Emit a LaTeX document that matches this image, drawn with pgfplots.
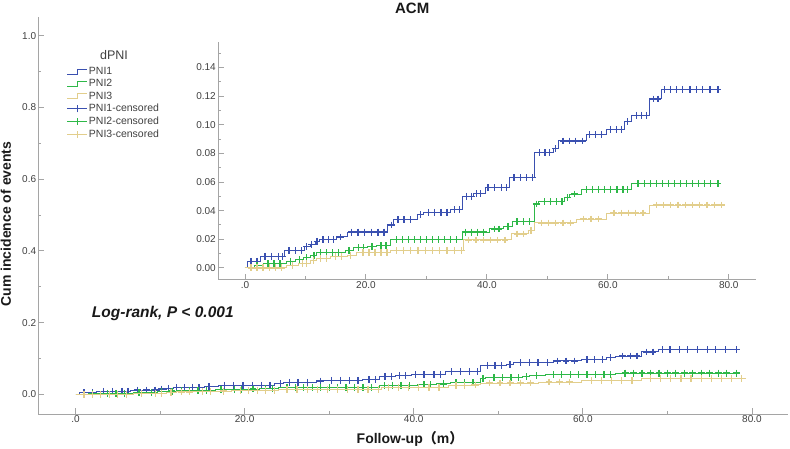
\documentclass[border=0pt]{standalone}
\usepackage{pgfplots}
\pgfplotsset{compat=1.18}
\usepackage{pgfplotstable}
\usepackage{fontspec}
\setmainfont{Liberation Sans}
\newfontfamily\cjk{Noto Sans CJK SC}

\definecolor{pblue}{RGB}{58,80,176}
\definecolor{pgreen}{RGB}{46,184,72}
\definecolor{pbeige}{RGB}{226,206,140}
\definecolor{axgray}{RGB}{165,165,165}
\definecolor{txtgray}{RGB}{64,64,64}

% ---------------- data ----------------
\pgfplotstableread{
x y
0 0
0.5 0.0047
2.5 0.0081
6.5 0.0119
9.9 0.0147
10.8 0.0165
11.6 0.0186
12.4 0.0198
15.2 0.0216
16.9 0.0250
23.5 0.0300
24.6 0.0337
28.5 0.0372
29.6 0.0388
34.0 0.0407
36.0 0.0500
37.8 0.0520
39.7 0.0560
43.8 0.0632
47.9 0.0806
51.0 0.0834
51.8 0.0887
56.5 0.0930
59.8 0.0969
62.8 0.1020
63.9 0.1066
66.9 0.1180
68.9 0.1247
78.2 0.1247
}\bsteps

\pgfplotstableread{
x y
1.0 0.0047
2.0 0.0047
3.3 0.0081
4.4 0.0081
5.5 0.0081
6.2 0.0081
7.3 0.0119
8.4 0.0119
9.4 0.0119
10.2 0.0147
11.0 0.0165
11.9 0.0186
12.9 0.0198
13.8 0.0198
14.6 0.0198
15.8 0.0216
17.6 0.0250
18.7 0.0250
19.8 0.0250
20.9 0.0250
22.0 0.0250
23.0 0.0250
24.2 0.0300
25.3 0.0337
26.3 0.0337
27.4 0.0337
29.0 0.0372
30.3 0.0388
31.3 0.0388
32.4 0.0388
33.4 0.0388
34.7 0.0407
35.5 0.0407
36.6 0.0500
37.4 0.0500
38.3 0.0520
39.0 0.0520
40.2 0.0560
41.2 0.0560
42.4 0.0560
43.2 0.0560
44.5 0.0632
45.5 0.0632
46.6 0.0632
47.5 0.0632
48.7 0.0806
49.6 0.0806
50.4 0.0806
51.4 0.0834
52.6 0.0887
53.7 0.0887
54.7 0.0887
55.8 0.0887
57.0 0.0930
58.0 0.0930
59.0 0.0930
60.5 0.0969
61.4 0.0969
62.3 0.0969
63.3 0.1020
64.7 0.1066
65.6 0.1066
66.4 0.1066
67.5 0.1180
68.3 0.1180
69.4 0.1247
70.3 0.1247
71.4 0.1247
72.4 0.1247
73.6 0.1247
74.7 0.1247
75.7 0.1247
76.9 0.1247
78.2 0.1247
}\bmarks

\pgfplotstableread{
x y
0 0
1.5 0.0019
3.0 0.0030
6.9 0.0047
8.3 0.0058
9.7 0.0072
10.8 0.0088
11.9 0.0105
16.6 0.0123
18.0 0.0140
20.2 0.0147
21.8 0.0156
24.0 0.0198
35.9 0.0250
40.5 0.0272
42.7 0.0290
44.3 0.0323
47.9 0.0446
48.5 0.0462
52.9 0.0490
53.7 0.0516
55.6 0.0550
63.9 0.0590
78.2 0.0590
}\gsteps

\pgfplotstableread{
x y
2.0 0.0019
3.8 0.0030
4.8 0.0030
5.8 0.0030
7.5 0.0047
9.0 0.0058
10.2 0.0072
11.4 0.0088
12.5 0.0105
13.5 0.0105
14.5 0.0105
15.5 0.0105
17.2 0.0123
18.8 0.0140
19.6 0.0140
21.0 0.0147
22.5 0.0156
23.3 0.0156
25.0 0.0198
26.0 0.0198
27.0 0.0198
28.0 0.0198
29.0 0.0198
30.0 0.0198
31.0 0.0198
32.0 0.0198
33.0 0.0198
34.0 0.0198
35.0 0.0198
36.5 0.0250
37.5 0.0250
38.5 0.0250
39.5 0.0250
41.2 0.0272
42.0 0.0272
43.5 0.0290
45.0 0.0323
46.0 0.0323
47.0 0.0323
48.2 0.0446
49.5 0.0462
50.5 0.0462
51.5 0.0462
52.4 0.0462
53.3 0.0490
54.5 0.0516
56.5 0.0550
57.5 0.0550
58.5 0.0550
59.5 0.0550
60.5 0.0550
61.5 0.0550
62.5 0.0550
63.3 0.0550
65.0 0.0590
66.0 0.0590
67.0 0.0590
68.0 0.0590
69.0 0.0590
70.0 0.0590
71.0 0.0590
72.0 0.0590
73.0 0.0590
74.0 0.0590
75.0 0.0590
76.0 0.0590
77.0 0.0590
78.2 0.0590
}\gmarks

\pgfplotstableread{
x y
0 0
6.9 0.0019
8.8 0.0030
10.8 0.0053
11.9 0.0065
14.1 0.0077
16.9 0.0088
18.5 0.0105
24.0 0.0123
36.2 0.0195
44.1 0.0237
46.8 0.0260
47.9 0.0314
54.8 0.0341
59.8 0.0383
66.9 0.0439
79.3 0.0439
}\ysteps

\pgfplotstableread{
x y
1.0 0
2.0 0
3.0 0
4.0 0
5.0 0
6.0 0
7.8 0.0019
9.5 0.0030
10.2 0.0030
11.3 0.0053
12.5 0.0065
13.5 0.0065
15.0 0.0077
16.0 0.0077
17.5 0.0088
19.5 0.0105
20.5 0.0105
21.5 0.0105
22.5 0.0105
23.5 0.0105
25.0 0.0123
26.2 0.0123
27.4 0.0123
28.6 0.0123
29.8 0.0123
31.0 0.0123
32.2 0.0123
33.4 0.0123
34.6 0.0123
35.8 0.0123
37.0 0.0195
38.2 0.0195
39.4 0.0195
40.6 0.0195
41.8 0.0195
43.0 0.0195
45.0 0.0237
46.0 0.0237
47.3 0.0260
49.0 0.0314
50.2 0.0314
51.4 0.0314
52.6 0.0314
53.8 0.0314
56.0 0.0341
57.2 0.0341
58.4 0.0341
61.0 0.0383
62.2 0.0383
63.4 0.0383
64.6 0.0383
65.8 0.0383
68.0 0.0439
69.2 0.0439
70.4 0.0439
71.6 0.0439
72.8 0.0439
74.0 0.0439
75.2 0.0439
76.4 0.0439
77.6 0.0439
78.8 0.0439
}\ymarks

\pgfplotsset{
  kmaxis/.style={
    scale only axis,
    axis x line*=bottom, axis y line*=left,
    axis line style={draw=axgray, line width=0.9pt, -},
    tick style={draw=axgray, line width=0.9pt},
    major tick length=5.5pt, minor tick length=3pt,
    tick align=inside,
    xtick={0,20,40,60,80},
    xticklabels={.0,20.0,40.0,60.0,80.0},
    minor xtick={10,30,50,70},
    ticklabel style={font=\fontsize{10}{12}\selectfont, text=txtgray},
    xticklabel style={inner sep=1.5pt},
    yticklabel style={inner sep=2pt},
  },
  stepline/.style={const plot, line width=1pt, forget plot},
  cens/.style={only marks, mark=+, mark size=3.4pt, line width=1.25pt, forget plot},
  steplegend/.style={line width=0.9pt, legend image code/.code={%
    \draw[#1] (0pt,-2.5pt) -- (10pt,-2.5pt) -- (10pt,2.5pt) -- (20pt,2.5pt);}},
  censlegend/.style={line width=0.9pt, legend image code/.code={%
    \draw[#1] (0pt,0pt) -- (20pt,0pt) (10pt,-3.5pt) -- (10pt,3.5pt);}},
}

\begin{document}
\begin{tikzpicture}
\useasboundingbox (0pt,0pt) rectangle (790pt,449pt);

% ---------------- main axis ----------------
\begin{axis}[kmaxis,
  at={(38.3pt,35pt)}, anchor=south west,
  width=750pt, height=397.3pt,
  clip mode=individual,
  xmin=-4.4, xmax=84.3, ymin=-0.055, ymax=1.053,
  ytick={0,0.2,0.4,0.6,0.8,1.0},
  yticklabels={0.0,0.2,0.4,0.6,0.8,1.0},
  minor ytick={0.1,0.3,0.5,0.7,0.9},
  xlabel={Follow-up{\cjk\bfseries （}m{\cjk\bfseries ）}},
  xlabel style={at={(axis description cs:0.4956,-0.0755)}, anchor=base,
    font=\fontsize{14}{16}\selectfont\bfseries, text=black!90},
  ylabel={Cum incidence of events},
  ylabel style={at={(axis description cs:-0.0431,0.478)}, anchor=center,
    font=\fontsize{14}{16}\selectfont\bfseries, text=black!90},
  legend style={at={(axis description cs:0.0383,0.873)}, anchor=north west,
    draw=none, fill=none, inner sep=0pt, outer sep=0pt,
    nodes={inner sep=0pt}, row sep=3.6pt, column sep=1pt,
    font=\fontsize{10.5}{12}\selectfont, text=txtgray},
  legend cell align=left,
]
\addplot[stepline, pblue] table {\bsteps};
\addplot[cens, pblue] table {\bmarks};
\addplot[stepline, pgreen] table {\gsteps};
\addplot[cens, pgreen] table {\gmarks};
\addplot[stepline, pbeige] table {\ysteps};
\addplot[cens, pbeige] table {\ymarks};

\addlegendimage{draw=pblue, steplegend}
\addlegendentry{PNI1}
\addlegendimage{draw=pgreen, steplegend}
\addlegendentry{PNI2}
\addlegendimage{draw=pbeige, steplegend}
\addlegendentry{PNI3}
\addlegendimage{draw=pblue, censlegend}
\addlegendentry{PNI1-censored}
\addlegendimage{draw=pgreen, censlegend}
\addlegendentry{PNI2-censored}
\addlegendimage{draw=pbeige, censlegend}
\addlegendentry{PNI3-censored}

\node[anchor=base, inner sep=0pt, font=\fontsize{15}{17}\selectfont\bfseries, text=black!90]
  at (axis description cs:0.4985,1.0077) {ACM};
\node[font=\fontsize{12.5}{14}\selectfont, text=txtgray] at (axis cs:4.55,0.946) {dPNI};
\node[anchor=base west, inner sep=0pt, font=\fontsize{15.5}{17}\selectfont\bfseries\itshape, text=black!90]
  at (axis cs:1.92,0.2128) {Log-rank, P < 0.001};
\end{axis}

% ---------------- inset axis ----------------
\begin{axis}[kmaxis,
  at={(218pt,169.5pt)}, anchor=south west,
  width=538pt, height=237.8pt,
  xmin=-4.46, xmax=84.5, ymin=-0.0081, ymax=0.158,
  ytick={0,0.02,0.04,0.06,0.08,0.10,0.12,0.14},
  yticklabels={0.00,0.02,0.04,0.06,0.08,0.10,0.12,0.14},
  minor ytick={0.01,0.03,0.05,0.07,0.09,0.11,0.13,0.15},
]
\addplot[stepline, pblue] table {\bsteps};
\addplot[cens, pblue] table {\bmarks};
\addplot[stepline, pgreen] table {\gsteps};
\addplot[cens, pgreen] table {\gmarks};
\addplot[stepline, pbeige] table {\ysteps};
\addplot[cens, pbeige] table {\ymarks};
\end{axis}
\end{tikzpicture}
\end{document}
